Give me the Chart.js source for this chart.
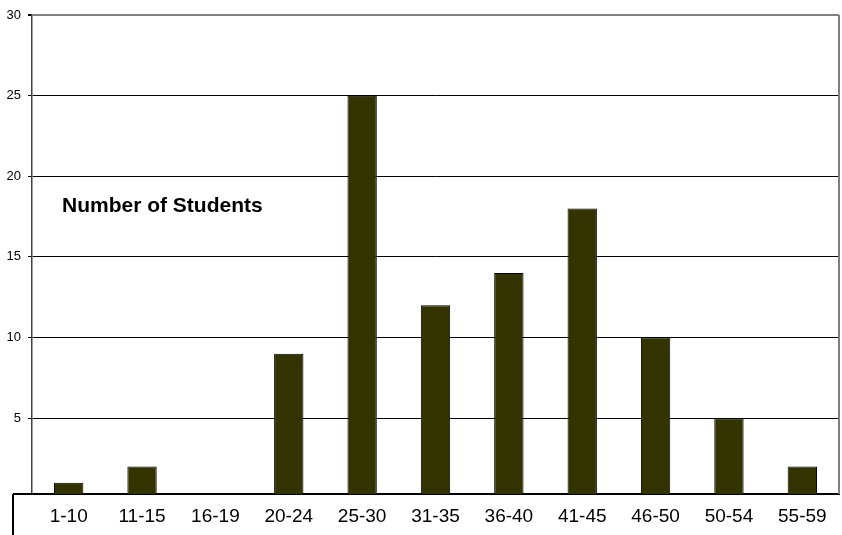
<!DOCTYPE html>
<html lang="en">
<head>
    <meta charset="UTF-8" />
    <title>Number of Students</title>
    <script src="https://cdn.jsdelivr.net/npm/chart.js"></script>
    <style>
        html, body { margin: 0; padding: 0; background: #fff; }
        #wrap { width: 842px; height: 535px; }
    </style>
</head>
<body>
    <div id="wrap"><canvas id="studentsChart"></canvas></div>

    <script>
        // age groups and how many students fall in each
        const ageGroups = ['1-10', '11-15', '16-19', '20-24', '25-30', '31-35', '36-40', '41-45', '46-50', '50-54', '55-59'];
        const studentCounts = [1, 2, 0, 9, 25, 12, 14, 18, 10, 5, 2];
        const yTickValues = [5, 10, 15, 20, 25, 30];
        const chartLabel = 'Number of Students';

        // frame pieces the old spreadsheet chart had: label box on the left, grey right border, text in the plot
        const framePlugin = {
            id: 'frame',
            afterDraw(chart) {
                const c = chart.ctx;
                const a = chart.chartArea;
                c.save();
                c.strokeStyle = '#000';
                c.lineWidth = 2;
                c.beginPath();
                c.moveTo(13, a.bottom);
                c.lineTo(a.left, a.bottom);
                c.moveTo(13, a.bottom);
                c.lineTo(13, chart.height);
                c.stroke();
                c.strokeStyle = '#808080';
                c.lineWidth = 2;
                c.beginPath();
                c.moveTo(a.right, a.top);
                c.lineTo(a.right, a.bottom);
                c.stroke();
                c.fillStyle = '#000';
                c.font = 'bold 21px Arial, "Liberation Sans", sans-serif';
                c.textBaseline = 'alphabetic';
                c.fillText(chartLabel, 62, 212);
                c.restore();
            }
        };

        new Chart(document.getElementById('studentsChart'), {
            type: 'bar',
            data: {
                labels: ageGroups,
                datasets: [{
                    label: chartLabel,
                    data: studentCounts,
                    backgroundColor: '#333300',
                    borderColor: '#000',
                    borderWidth: 1,
                    barPercentage: 0.4,
                    categoryPercentage: 1
                }]
            },
            options: {
                responsive: true,
                maintainAspectRatio: false,
                animation: false,
                layout: { padding: { top: 15, right: 3, left: 0, bottom: 0 } },
                plugins: {
                    legend: { display: false },
                    tooltip: { enabled: false }
                },
                scales: {
                    x: {
                        grid: { display: false, drawTicks: false },
                        border: { display: true, color: '#000', width: 2 },
                        ticks: {
                            color: '#000',
                            padding: 11,
                            maxRotation: 0,
                            autoSkip: false,
                            font: { family: 'Arial, "Liberation Sans", sans-serif', size: 19 }
                        },
                        afterFit(scale) { scale.height = 41; }
                    },
                    y: {
                        min: 0.3,
                        max: 30,
                        afterBuildTicks(scale) {
                            scale.ticks = yTickValues.map(v => ({ value: v }));
                        },
                        afterFit(scale) { scale.width = 32; },
                        grid: {
                            color: ctx => (ctx.tick && ctx.tick.value === 30 ? '#808080' : '#000'),
                            lineWidth: ctx => (ctx.tick && ctx.tick.value === 30 ? 2 : 1),
                            tickColor: '#000',
                            tickLength: 4
                        },
                        border: { display: true, color: '#404040', width: 1.5 },
                        ticks: {
                            color: '#000',
                            padding: 7,
                            font: { family: 'Arial, "Liberation Sans", sans-serif', size: 13 }
                        }
                    }
                }
            },
            plugins: [framePlugin]
        });
    </script>
</body>
</html>
